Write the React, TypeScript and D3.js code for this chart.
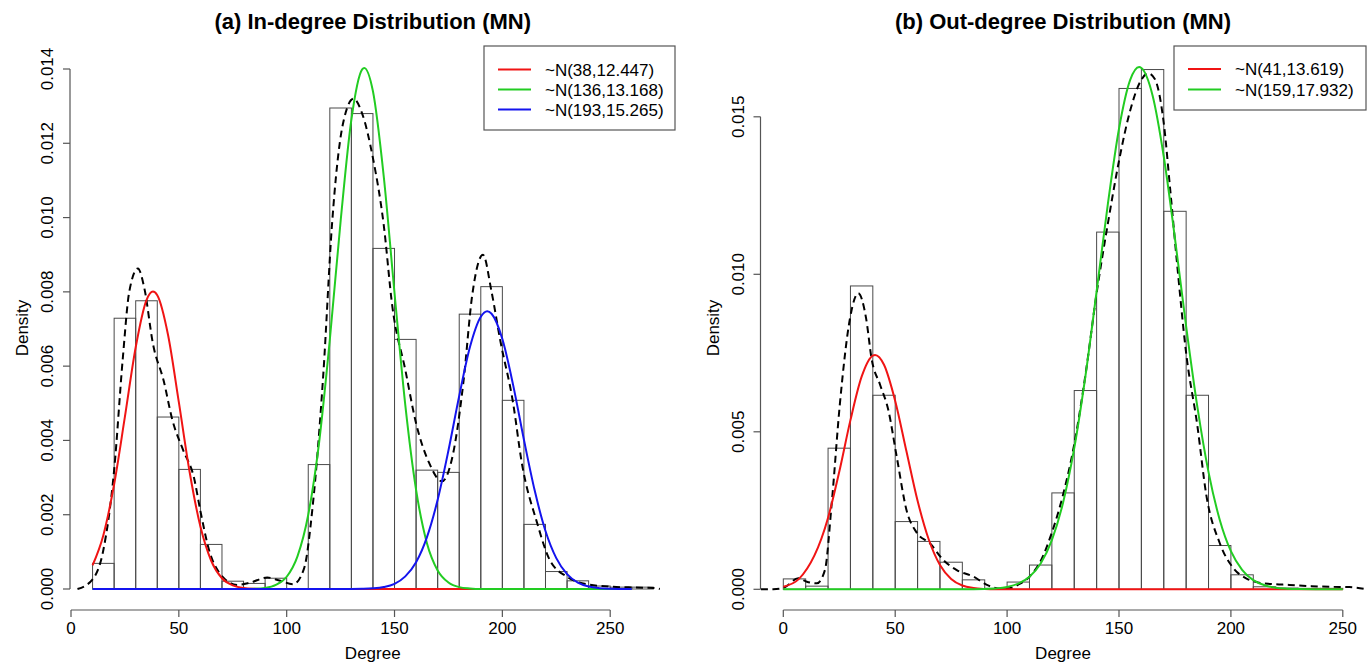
import React from "react";
import * as d3 from "d3";

// ---------- DATA ----------
// (a) In-degree histogram: bins of width 10 starting at 10
const inBinStart = 10;
const inBinWidth = 10;
const inHist = [0.00069, 0.00729, 0.00776, 0.00463, 0.00322, 0.0012, 0.00021, 0.00015, 0.00029, 0,
  0.00335, 0.01295, 0.0128, 0.00917, 0.00672, 0.0032, 0.00314, 0.0074, 0.00814, 0.00508,
  0.00174, 0.00047, 0.00022, 0.00008, 0.00005, 0.00005];

// (a) kernel density (dashed)
const inDensX = [3, 10, 15, 20, 24, 27, 31, 34, 38, 43, 47, 52, 57, 60, 64, 69, 77, 83, 91, 97, 103, 108, 112, 117, 121, 126, 131, 135, 140, 145, 149, 155, 160, 166, 172, 177, 182, 186, 191, 195, 199, 205, 209, 216, 222, 230, 239, 251, 262, 270, 273];
const inDensY = [0, 0.00026, 0.00105, 0.0032, 0.0062, 0.008, 0.00863, 0.0081, 0.0066, 0.0056, 0.00455, 0.00374, 0.003, 0.0021, 0.00105, 0.00042, 0.00011, 0.00017, 0.00031, 0.00022, 0.00013, 0.00054, 0.0022, 0.0058, 0.0098, 0.0125, 0.0132, 0.0128, 0.0116, 0.0098, 0.0076, 0.0059, 0.00446, 0.0034, 0.0029, 0.0036, 0.0056, 0.0079, 0.009, 0.008, 0.0067, 0.005, 0.0034, 0.0018, 0.00078, 0.00033, 0.00013, 0.00006, 0.00004, 0.00003, 0];

// (a) fitted components
const inRedX = [10, 15, 20, 25, 30, 35, 38, 40, 45, 50, 55, 60, 65, 70, 75, 80, 85, 90, 260];
const inRedY = [0.00064, 0.00145, 0.00282, 0.00464, 0.00651, 0.00778, 0.00801, 0.00791, 0.00684, 0.00503, 0.00315, 0.00168, 0.00076, 0.00029, 0.0001, 0.000027, 0.000006, 0, 0];
const inGreenX = [10, 80, 85, 90, 95, 100, 105, 110, 115, 120, 125, 130, 135, 136, 140, 145, 150, 155, 160, 165, 170, 175, 180, 185, 190, 260];
const inGreenY = [0, 0.000002, 0.000008, 0.00003, 0.00011, 0.00033, 0.00088, 0.002, 0.00393, 0.00671, 0.0099, 0.01264, 0.01399, 0.01403, 0.0134, 0.01111, 0.00797, 0.00495, 0.00267, 0.00124, 0.0005, 0.000175, 0.00005, 0.000014, 0, 0];
const inBlueX = [10, 130, 135, 140, 145, 150, 155, 160, 165, 170, 175, 180, 185, 190, 193, 195, 200, 205, 210, 215, 220, 225, 230, 235, 240, 245, 250, 255, 260];
const inBlueY = [0, 0.0000015, 0.0000055, 0.000018, 0.000053, 0.00014, 0.00034, 0.00072, 0.00139, 0.0024, 0.00373, 0.0052, 0.00652, 0.00733, 0.00748, 0.00741, 0.00673, 0.00549, 0.00402, 0.00265, 0.00156, 0.00083, 0.0004, 0.00017, 0.000065, 0.000023, 0.000007, 0.000002, 0];

// (b) Out-degree histogram: bins of width 10 starting at 0
const outBinStart = 0;
const outBinWidth = 10;
const outHist = [0.00033, 0.0001, 0.00448, 0.00963, 0.00616, 0.00215, 0.00152, 0.00086, 0.0003, 0.00003,
  0.00023, 0.00077, 0.00306, 0.00631, 0.01134, 0.0159, 0.0165, 0.012, 0.00616, 0.00139,
  0.00046, 0.00008, 0.00004, 0.00003, 0.00003];

const outDensX = [-10, -4.5, 0, 6.7, 10.5, 15, 18.6, 21.6, 25.3, 29.8, 33.5, 37, 39.5, 43.2, 46.9, 50.7, 55.1, 59.6, 65.5, 71.5, 77.5, 85, 91, 97, 101, 105, 110, 115, 120, 125, 130, 135, 140, 145, 150, 155, 159.4, 163, 166, 170, 173, 176, 180, 185, 189, 195, 201, 207, 212, 218, 226, 236, 246, 253, 261];
const outDensY = [0, 0, 0.00004, 0.00035, 0.00024, 0.00019, 0.00061, 0.0027, 0.0059, 0.0086, 0.0094, 0.0086, 0.0073, 0.0065, 0.0057, 0.0042, 0.0025, 0.0018, 0.00146, 0.00093, 0.00061, 0.0004, 0.00014, 0.00002, 0.00003, 0.00015, 0.0004, 0.0009, 0.0018, 0.003, 0.0046, 0.0068, 0.0094, 0.0116, 0.0136, 0.0152, 0.0161, 0.01638, 0.0162, 0.0148, 0.0126, 0.0103, 0.0075, 0.0052, 0.003, 0.00147, 0.00068, 0.00034, 0.00022, 0.00017, 0.00014, 0.0001, 0.00008, 0.00007, 0];

const outRedX = [0, 7, 20, 25, 30, 35, 40, 41, 45, 50, 55, 60, 65, 70, 75, 80, 85, 90, 95, 250];
const outRedY = [0.00008, 0.00033, 0.00227, 0.00373, 0.00537, 0.00675, 0.00742, 0.00744, 0.00713, 0.00598, 0.00439, 0.00281, 0.00158, 0.00077, 0.00033, 0.00012, 0.00004, 0.00001, 0, 0];
const outGreenX = [0, 80, 90, 95, 100, 105, 110, 115, 120, 125, 130, 135, 140, 145, 150, 155, 159, 160, 165, 170, 175, 180, 185, 190, 195, 200, 205, 210, 215, 220, 225, 230, 240, 250];
const outGreenY = [0, 0.000001, 0.00001, 0.000028, 0.000074, 0.00018, 0.0004, 0.00082, 0.00156, 0.00275, 0.00448, 0.00677, 0.00946, 0.01222, 0.01462, 0.01617, 0.01658, 0.01655, 0.01568, 0.01374, 0.01114, 0.00835, 0.0058, 0.00372, 0.00221, 0.00121, 0.00062, 0.00029, 0.00013, 0.00005, 0.00002, 0.000006, 0.000001, 0];

const xTicks = [0, 50, 100, 150, 200, 250];
const inYTicks = [0, 0.002, 0.004, 0.006, 0.008, 0.01, 0.012, 0.014];
const outYTicks = [0, 0.005, 0.01, 0.015];

const inLegend = ["~N(38,12.447)", "~N(136,13.168)", "~N(193,15.265)"];
const outLegend = ["~N(41,13.619)", "~N(159,17.932)"];

const RED = "#f01414";
const GREEN = "#22cc22";
const BLUE = "#1414ee";
const FONT = "Arial, 'Liberation Sans', Helvetica, sans-serif";

type Series = { xs: number[]; ys: number[]; color: string };

function Panel(props: {
  title: string;
  x: d3.ScaleLinear<number, number>;
  y: d3.ScaleLinear<number, number>;
  region: [number, number, number, number]; // left, right, top, bottom
  hist: number[];
  binStart: number;
  binWidth: number;
  densX: number[];
  densY: number[];
  curves: Series[];
  yTicks: number[];
  yFmt: (v: number) => string;
  legend: string[];
  legendColors: string[];
  legendBox: [number, number, number, number];
  legendRows: number[];
}) {
  const { x, y, region } = props;
  const [L, R, T, B] = region;
  const cx = (L + R) / 2;
  const cy = (T + B) / 2;
  const line = d3
    .line<[number, number]>()
    .x((d) => x(d[0]))
    .y((d) => y(d[1]))
    .curve(d3.curveMonotoneX);
  const densPts = props.densX.map((v, i) => [v, props.densY[i]] as [number, number]);
  const yTop = y(props.yTicks[props.yTicks.length - 1]);
  const y0 = y(0);
  const xs = x.domain();
  const lb = props.legendBox;
  const clipId = "clip" + Math.round(L);
  return (
    <g>
      <defs>
        <clipPath id={clipId}>
          <rect x={L} y={T} width={R - L} height={B - T} />
        </clipPath>
      </defs>
      <text x={cx} y={29} textAnchor="middle" fontFamily={FONT} fontWeight="bold" fontSize={22}>
        {props.title}
      </text>
      {/* histogram */}
      {props.hist.map((h, i) => {
        const a = props.binStart + i * props.binWidth;
        const b = a + props.binWidth;
        return (
          <rect
            key={i}
            x={x(a)}
            y={y(h)}
            width={x(b) - x(a)}
            height={y0 - y(h)}
            fill="none"
            stroke="#4a4a4a"
            strokeWidth={1}
          />
        );
      })}
      <g clipPath={`url(#${clipId})`}>
        <path d={line(densPts) || ""} fill="none" stroke="#000" strokeWidth={2} strokeDasharray="7,4.5" />
        {props.curves.map((c, k) => (
          <path
            key={k}
            d={line(c.xs.map((v, i) => [v, c.ys[i]] as [number, number])) || ""}
            fill="none"
            stroke={c.color}
            strokeWidth={2}
          />
        ))}
      </g>
      {/* x axis */}
      <line x1={x(xs[0])} x2={x(xs[1])} y1={B} y2={B} stroke="#555" strokeWidth={1.2} />
      {xTicks.map((t) => (
        <g key={t}>
          <line x1={x(t)} x2={x(t)} y1={B} y2={B + 7} stroke="#555" strokeWidth={1.2} />
          <text x={x(t)} y={634} textAnchor="middle" fontFamily={FONT} fontSize={17}>
            {t}
          </text>
        </g>
      ))}
      {/* y axis */}
      <line x1={L} x2={L} y1={y0} y2={yTop} stroke="#555" strokeWidth={1.2} />
      {props.yTicks.map((t) => (
        <g key={t}>
          <line x1={L - 7} x2={L} y1={y(t)} y2={y(t)} stroke="#555" strokeWidth={1.2} />
          <text
            transform={`translate(${L - 17},${y(t)}) rotate(-90)`}
            textAnchor="middle"
            fontFamily={FONT}
            fontSize={17}
          >
            {props.yFmt(t)}
          </text>
        </g>
      ))}
      <text x={cx} y={659} textAnchor="middle" fontFamily={FONT} fontSize={17}>
        Degree
      </text>
      <text
        transform={`translate(${L - 42},${cy}) rotate(-90)`}
        textAnchor="middle"
        fontFamily={FONT}
        fontSize={17}
      >
        Density
      </text>
      {/* legend */}
      <rect x={lb[0]} y={lb[2]} width={lb[1] - lb[0]} height={lb[3] - lb[2]} fill="#fff" stroke="#555" strokeWidth={1.2} />
      {props.legend.map((s, i) => (
        <g key={s}>
          <line
            x1={lb[0] + 14}
            x2={lb[0] + 47}
            y1={props.legendRows[i]}
            y2={props.legendRows[i]}
            stroke={props.legendColors[i]}
            strokeWidth={2}
          />
          <text x={lb[0] + 61} y={props.legendRows[i] + 6} fontFamily={FONT} fontSize={17}>
            {s}
          </text>
        </g>
      ))}
    </g>
  );
}

export default function App() {
  const xIn = d3.scaleLinear().domain([0, 250]).range([71, 610.2]);
  const yIn = d3.scaleLinear().domain([0, 0.014]).range([589, 69]);
  const xOut = d3.scaleLinear().domain([0, 250]).range([783.3, 1342.8]);
  const yOut = d3.scaleLinear().domain([0, 0.015]).range([589.3, 116.8]);
  const fmt = d3.format(".3f");
  return (
    <svg
      width={1372}
      height={665}
      style={{ position: "absolute", left: 0, top: 0, background: "#fff" }}
    >
      <rect width={1372} height={665} fill="#fff" />
      <Panel
        title="(a) In-degree Distribution (MN)"
        x={xIn}
        y={yIn}
        region={[70, 675.5, 46, 610]}
        hist={inHist}
        binStart={inBinStart}
        binWidth={inBinWidth}
        densX={inDensX}
        densY={inDensY}
        curves={[
          { xs: inRedX, ys: inRedY, color: RED },
          { xs: inGreenX, ys: inGreenY, color: GREEN },
          { xs: inBlueX, ys: inBlueY, color: BLUE },
        ]}
        yTicks={inYTicks}
        yFmt={fmt}
        legend={inLegend}
        legendColors={[RED, GREEN, BLUE]}
        legendBox={[484, 675, 46, 130]}
        legendRows={[69.5, 89.5, 109.5]}
      />
      <Panel
        title="(b) Out-degree Distribution (MN)"
        x={xOut}
        y={yOut}
        region={[760.5, 1365.5, 46, 610]}
        hist={outHist}
        binStart={outBinStart}
        binWidth={outBinWidth}
        densX={outDensX}
        densY={outDensY}
        curves={[
          { xs: outRedX, ys: outRedY, color: RED },
          { xs: outGreenX, ys: outGreenY, color: GREEN },
        ]}
        yTicks={outYTicks}
        yFmt={fmt}
        legend={outLegend}
        legendColors={[RED, GREEN]}
        legendBox={[1174, 1366, 46, 110]}
        legendRows={[69, 89.5]}
      />
    </svg>
  );
}
